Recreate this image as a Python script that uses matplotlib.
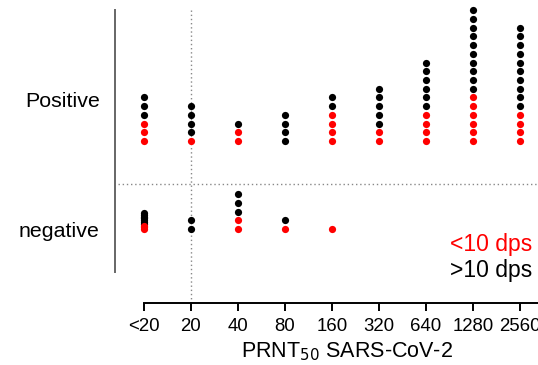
import matplotlib
matplotlib.use("Agg")
import matplotlib.pyplot as plt

plt.rcParams['font.family'] = ['Liberation Sans', 'DejaVu Sans']

titres = ["<20", "20", "40", "80", "160", "320", "640", "1280", "2560"]
pos_red = [3, 1, 2, 0, 4, 2, 4, 6, 4]
pos_black = [3, 4, 1, 4, 2, 5, 6, 10, 10]
neg_red = [3, 0, 2, 1, 1, 0, 0, 0, 0]
neg_black = [7, 2, 3, 1, 0, 0, 0, 0, 0]
group_labels = ["negative", "Positive"]

W, H = 538, 365
fig = plt.figure(figsize=(W / 100, H / 100), dpi=100)
# axes pixel geometry
xl, xr = -0.617, 8.5
yb, yt = -0.84, 2.55
left_px = 115
right_px = 144 + 47 * xr
top_px = 229 - 88 * yt
bot_px = 303
ax = fig.add_axes([left_px / W, (H - bot_px) / H, (right_px - left_px) / W, (bot_px - top_px) / H])
ax.set_xlim(xl, xr)
ax.set_ylim(yb, yt)

step = 0.099
dense_step = 0.02
ms = 5.2
for i in range(len(titres)):
    for base, nr, nb in [(1.0, pos_red[i], pos_black[i]), (0.0, neg_red[i], neg_black[i])]:
        n = nr + nb
        s = dense_step if n > 6 and base == 0.0 else step
        ys = [base + k * s for k in range(n)]
        xs = [i] * n
        if nb:
            ax.plot(xs[nr:], ys[nr:], 'o', color='black', ms=ms, mew=0, zorder=3)
        if nr:
            ax.plot(xs[:nr], ys[:nr], 'o', color='red', ms=ms, mew=0, zorder=4)

# dotted reference lines
ax.plot([1, 1], [2.49, yb], ls=(0, (1, 2)), color='#888888', lw=1.0, zorder=1, clip_on=False)
ax.plot([-0.55, xr], [0.51, 0.51], ls=(0, (1, 2)), color='#888888', lw=1.0, zorder=1)

for sp in ['top', 'right']:
    ax.spines[sp].set_visible(False)
ax.spines['left'].set_bounds(-0.49, 2.49)
ax.spines['left'].set_color('#666666')
ax.spines['left'].set_linewidth(1.4)
ax.spines['bottom'].set_bounds(0, xr)
ax.spines['bottom'].set_linewidth(1.4)

ax.set_xticks(range(len(titres)))
ax.set_xticklabels(titres, fontsize=13.4)
ax.tick_params(axis='x', length=6, width=1.4, pad=5)
ax.set_yticks([0, 1.477])
ax.set_yticklabels(group_labels, fontsize=15.4)
ax.tick_params(axis='y', length=0, pad=11)
ax.set_xlabel("PRNT$_{50}$ SARS-CoV-2", fontsize=15.5)
ax.xaxis.set_label_coords((347 - left_px) / (right_px - left_px), -(352 - bot_px) / (bot_px - top_px))
ax.xaxis.label.set_va('center')

fig.text(532 / W, 1 - 244 / H, "<10 dps", color='red', fontsize=16.5, ha='right', va='center')
fig.text(532 / W, 1 - 271 / H, ">10 dps", color='black', fontsize=16.5, ha='right', va='center')

fig.savefig("out.png", dpi=100)
